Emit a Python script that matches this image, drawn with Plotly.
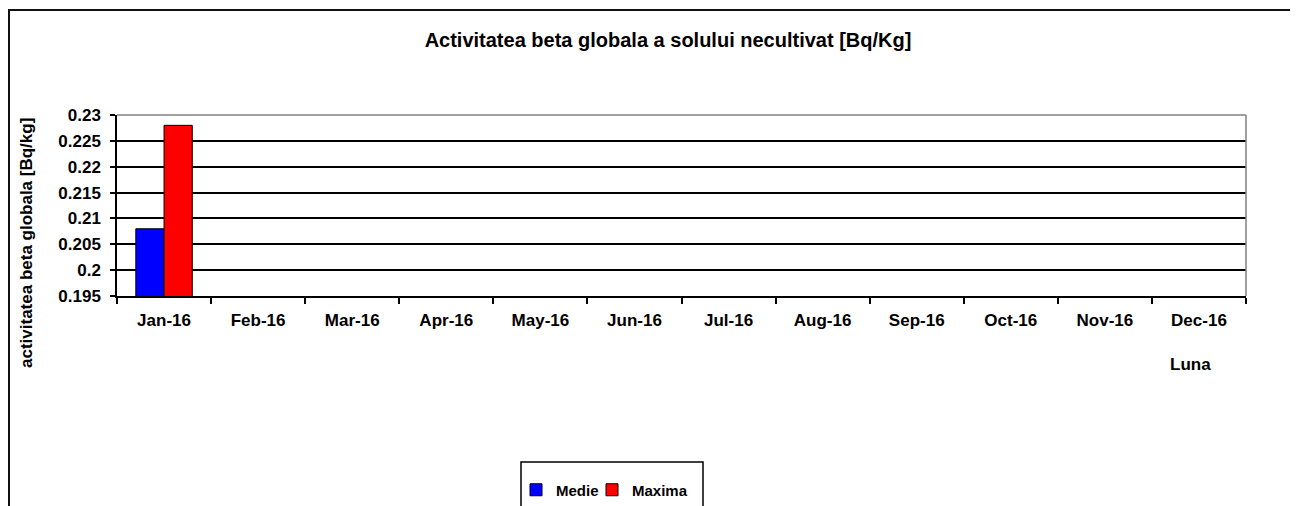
import plotly.graph_objects as go

months = ["Jan-16", "Feb-16", "Mar-16", "Apr-16", "May-16", "Jun-16",
          "Jul-16", "Aug-16", "Sep-16", "Oct-16", "Nov-16", "Dec-16"]
medie = [0.208] + [None] * 11
maxima = [0.228] + [None] * 11

# page has an 8px body margin; figure coordinates = screen - 8
OFF = 8
W, H = 1298 - OFF, 506 - OFF
L, R, T, B = 117 - OFF, 1246 - OFF, 115 - OFF, 296 - OFF
pw, ph = R - L, B - T

def px(x):
    return (x - OFF - L) / pw

def py(y):
    return (B - (y - OFF)) / ph

FONT = "Liberation Sans, Arial, sans-serif"
LEGFONT = dict(family=FONT, size=15, color="black", weight="bold")

fig = go.Figure()
fig.add_trace(go.Bar(x=months, y=medie, name="Medie", legend="legend",
                     marker=dict(color="#0000ff", line=dict(color="black", width=1))))
fig.add_trace(go.Bar(x=months, y=maxima, name="Maxima", legend="legend2",
                     marker=dict(color="#ff0000", line=dict(color="black", width=1))))

fig.update_layout(
    width=W, height=H,
    margin=dict(l=L, r=W - R, t=T, b=H - B, autoexpand=False),
    paper_bgcolor="white", plot_bgcolor="white",
    barmode="group", bargap=0.4, bargroupgap=0,
    font=dict(family=FONT, size=17, color="black"),
    showlegend=True,
    legend=dict(orientation="h", x=px(516), y=py(490), xanchor="left", yanchor="middle",
                bgcolor="rgba(0,0,0,0)", borderwidth=0, font=LEGFONT, itemwidth=30),
    legend2=dict(orientation="h", x=px(592), y=py(490), xanchor="left", yanchor="middle",
                 bgcolor="rgba(0,0,0,0)", borderwidth=0, font=LEGFONT, itemwidth=30),
    title=dict(text="<b>Activitatea beta globala a solului necultivat [Bq/Kg]</b>",
               x=(668 - OFF) / W, xref="container", xanchor="center",
               y=1 - (40 - OFF) / H, yref="container", yanchor="middle",
               font=dict(family=FONT, size=20, color="black")),
)

fig.update_xaxes(type="category", showline=True, linecolor="black", linewidth=1.5,
                 ticks="outside", tickson="boundaries", ticklen=6, tickcolor="black",
                 tickwidth=1.5, showgrid=False, ticklabelstandoff=8,
                 tickfont=dict(family=FONT, size=17, color="black", weight="bold"))
fig.update_yaxes(range=[0.195, 0.23], dtick=0.005, tick0=0.195,
                 showline=True, linecolor="black", linewidth=1.5,
                 ticks="outside", ticklen=5, tickcolor="black", tickwidth=1.5,
                 showgrid=True, gridcolor="black", gridwidth=1.5, zeroline=False,
                 ticklabelstandoff=6,
                 tickfont=dict(family=FONT, size=17, color="black", weight="bold"))

# gray top/right plot border
fig.add_shape(type="line", xref="paper", yref="paper", x0=0, x1=1, y0=1, y1=1,
              line=dict(color="#808080", width=1.5))
fig.add_shape(type="line", xref="paper", yref="paper", x0=1, x1=1, y0=0, y1=1,
              line=dict(color="#808080", width=1.5))

# legend box
fig.add_shape(type="rect", xref="paper", yref="paper",
              x0=px(521), x1=px(703), y0=py(530), y1=py(462),
              line=dict(color="black", width=1.5))

# outer chart frame
fig.add_shape(type="rect", xref="paper", yref="paper",
              x0=px(9), x1=px(1330), y0=py(540), y1=py(10),
              line=dict(color="#111111", width=2))

fig.add_annotation(text="<b>activitatea beta globala [Bq/kg]</b>", textangle=-90,
                   xref="paper", yref="paper", x=px(26), y=py(243),
                   xanchor="center", yanchor="middle",
                   showarrow=False, font=dict(family=FONT, size=17, color="black"))
fig.add_annotation(text="<b>Luna</b>", xref="paper", yref="paper",
                   x=px(1190), y=py(364), xanchor="center", yanchor="middle",
                   showarrow=False,
                   font=dict(family=FONT, size=17, color="black"))

fig.write_html("out.html")
